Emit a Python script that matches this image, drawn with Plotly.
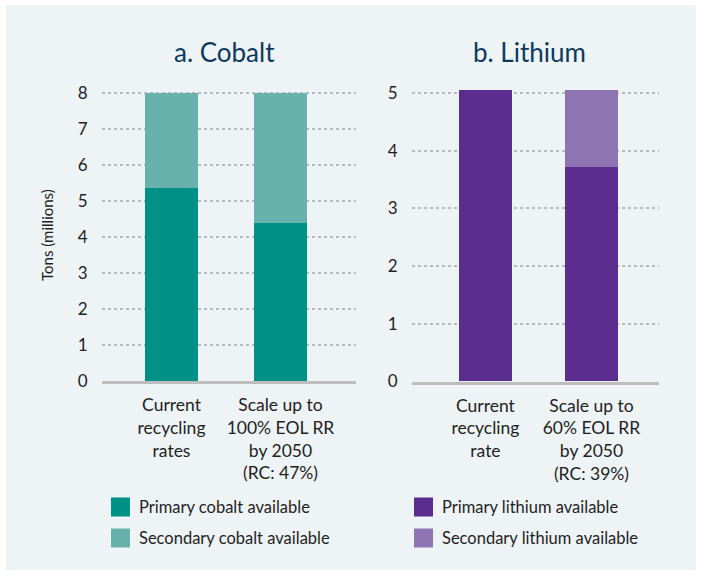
import plotly.graph_objects as go

# ---- data (millions of tons) ----
cobalt_categories = ["Current<br>recycling<br>rates",
                     "Scale up to<br>100% EOL RR<br>by 2050<br>(RC: 47%)"]
cobalt_primary = [5.36, 4.39]
cobalt_secondary = [2.64, 3.61]

lithium_categories = ["Current<br>recycling<br>rate",
                      "Scale up to<br>60% EOL RR<br>by 2050<br>(RC: 39%)"]
lithium_primary = [5.04, 3.71]
lithium_secondary = [0.0, 1.33]

cobalt_ticks = [0, 1, 2, 3, 4, 5, 6, 7, 8]
lithium_ticks = [0, 1, 2, 3, 4, 5]

# ---- styling ----
W, H = 701, 575
FONT = "Lato"
TEXT = "#1f1f1f"
TITLE = "#0c3a5e"
BG = "#eef3f6"
GRID = "#b9bcbf"
BASE = "#bdbdbd"
C_PRIM, C_SEC = "#009186", "#68b2ad"
L_PRIM, L_SEC = "#5b2d8e", "#8f74b3"


def px(x):
    return x / W


def py(y):
    return 1 - y / H


fig = go.Figure()

bar_common = dict(marker_line_width=0, showlegend=False, hoverinfo="y+name")
fig.add_trace(go.Bar(x=cobalt_categories, y=cobalt_primary, name="Primary cobalt available",
                     marker_color=C_PRIM, width=0.486, xaxis="x", yaxis="y", **bar_common))
fig.add_trace(go.Bar(x=cobalt_categories, y=cobalt_secondary, name="Secondary cobalt available",
                     marker_color=C_SEC, width=0.486, xaxis="x", yaxis="y", **bar_common))
fig.add_trace(go.Bar(x=lithium_categories, y=lithium_primary, name="Primary lithium available",
                     marker_color=L_PRIM, width=0.5, xaxis="x2", yaxis="y2", **bar_common))
fig.add_trace(go.Bar(x=lithium_categories, y=lithium_secondary, name="Secondary lithium available",
                     marker_color=L_SEC, width=0.5, xaxis="x2", yaxis="y2", **bar_common))

# plot areas in pixel terms: cobalt y=0 at 381, 36 px per million tons;
# lithium y=0 at 381.5, 57.7 px per million tons
co_top = 8.1
li_top = 5.1
xaxis_common = dict(type="category", showline=True, linecolor=BASE, linewidth=3,
                    showgrid=False, ticks="outside", ticklen=6, tickcolor="rgba(0,0,0,0)",
                    automargin=False,
                    tickfont=dict(family=FONT, size=17.5, color=TEXT), fixedrange=True)
yaxis_common = dict(showgrid=True, gridcolor=GRID, gridwidth=1.5, griddash="dot",
                    zeroline=False, showline=False, ticks="outside", ticklen=10,
                    tickcolor="rgba(0,0,0,0)", automargin=False,
                    tickfont=dict(family=FONT, size=17, color=TEXT), fixedrange=True)

fig.update_layout(
    width=W, height=H,
    margin=dict(l=0, r=0, t=0, b=0, pad=0, autoexpand=False),
    paper_bgcolor="white", plot_bgcolor="rgba(0,0,0,0)",
    barmode="stack", bargap=0,
    font=dict(family=FONT, color=TEXT),
    xaxis=dict(domain=[px(102), px(356)], range=[-0.638, 1.693], anchor="y", **xaxis_common),
    yaxis=dict(domain=[py(381), py(381 - co_top * 36)], range=[0, co_top],
               tickvals=cobalt_ticks, anchor="x", **yaxis_common),
    xaxis2=dict(domain=[px(412), px(659)], range=[-0.693, 1.637], anchor="y2", **xaxis_common),
    yaxis2=dict(domain=[py(381.5), py(381.5 - li_top * 57.7)], range=[0, li_top],
                tickvals=lithium_ticks, anchor="x2", **yaxis_common),
)

# panel background
fig.add_shape(type="rect", xref="paper", yref="paper", layer="below",
              x0=px(6), x1=px(696), y0=py(570), y1=py(5),
              fillcolor=BG, line_width=0)

# panel titles and axis title
title_font = dict(family=FONT, size=26, color=TITLE)
fig.add_annotation(text="a. Cobalt", x=px(224), y=py(52), xref="paper", yref="paper",
                   xanchor="center", yanchor="middle", showarrow=False, font=title_font)
fig.add_annotation(text="b. Lithium", x=px(529), y=py(52), xref="paper", yref="paper",
                   xanchor="center", yanchor="middle", showarrow=False, font=title_font)
fig.add_annotation(text="Tons (millions)", x=px(47), y=py(235), xref="paper", yref="paper",
                   xanchor="center", yanchor="middle", showarrow=False, textangle=-90,
                   font=dict(family=FONT, size=15, color=TEXT))

# legends
legend_items = [
    (111, 507, C_PRIM, "Primary cobalt available"),
    (111, 538, C_SEC, "Secondary cobalt available"),
    (414, 507, L_PRIM, "Primary lithium available"),
    (414, 538, L_SEC, "Secondary lithium available"),
]
for lx, ly, col, label in legend_items:
    fig.add_shape(type="rect", xref="paper", yref="paper",
                  x0=px(lx), x1=px(lx + 19), y0=py(ly + 9.5), y1=py(ly - 9.5),
                  fillcolor=col, line_width=0)
    fig.add_annotation(text=label, x=px(lx + 26), y=py(ly), xref="paper", yref="paper",
                       xanchor="left", yanchor="middle", showarrow=False,
                       font=dict(family=FONT, size=16.5, color=TEXT))

fig.write_html("out.html")
